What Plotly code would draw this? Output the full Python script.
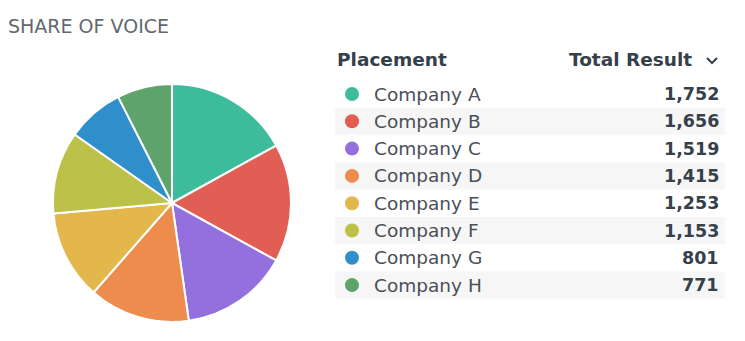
import plotly.graph_objects as go

# Share-of-voice data
companies = ["Company A", "Company B", "Company C", "Company D",
             "Company E", "Company F", "Company G", "Company H"]
totals = [1752, 1656, 1519, 1415, 1253, 1153, 801, 771]
colors = ["#3dbc9b", "#e05e53", "#9370de", "#ee8c4d",
          "#e3b74b", "#bcc249", "#2e8fca", "#5ea36b"]

W, H = 745, 341
TEXT = "#36404a"
FONT = "DejaVu Sans"

fig = go.Figure()

# Pie, starting at 12 o'clock and running clockwise
fig.add_trace(go.Pie(
    labels=companies, values=totals, sort=False, direction="clockwise",
    rotation=0, textinfo="none", hoverinfo="label+value",
    marker=dict(colors=colors, line=dict(color="white", width=2)),
    domain=dict(x=[53 / W, 291 / W], y=[1 - 322 / H, 1 - 84 / H]),
    showlegend=False,
))

# Table rows (pixel-like coordinates on a hidden overlay axis)
row0, step = 94, 27.3
row_y = [row0 + i * step for i in range(len(companies))]

shapes = []
for i, y in enumerate(row_y):
    if i % 2 == 1:
        shapes.append(dict(type="rect", xref="x", yref="y", layer="below",
                           x0=335, x1=725, y0=y - 13.5, y1=y + 13.5,
                           fillcolor="#f6f6f6", line=dict(width=0)))

# sort chevron next to the value column header
shapes.append(dict(type="path", xref="x", yref="y",
                   path="M 707 58 L 712 63 L 717 58",
                   line=dict(color=TEXT, width=2)))

fig.add_trace(go.Scatter(
    x=[352] * len(companies), y=row_y, mode="markers",
    marker=dict(size=14, color=colors), hoverinfo="skip", showlegend=False,
    xaxis="x", yaxis="y",
))

annotations = [
    dict(text="SHARE OF VOICE", x=6, y=26, xanchor="left", yanchor="middle",
         showarrow=False, font=dict(family=FONT, size=19, color="#62686e")),
    dict(text="<b>Placement</b>", x=335, y=59, xanchor="left", yanchor="middle",
         showarrow=False, font=dict(family=FONT, size=18.5, color=TEXT)),
    dict(text="<b>Total Result</b>", x=694, y=59, xanchor="right", yanchor="middle",
         showarrow=False, font=dict(family=FONT, size=18.5, color=TEXT)),
]
for name, val, y in zip(companies, totals, row_y):
    annotations.append(dict(text=name, x=372, y=y, xanchor="left", yanchor="middle",
                            showarrow=False,
                            font=dict(family=FONT, size=18.5, color="#4a5058")))
    annotations.append(dict(text=f"<b>{val:,}</b>", x=721, y=y, xanchor="right",
                            yanchor="middle", showarrow=False,
                            font=dict(family=FONT, size=17.5, color=TEXT)))

for a in annotations:
    a.setdefault("xref", "x")
    a.setdefault("yref", "y")

fig.update_layout(
    width=W, height=H, margin=dict(l=0, r=0, t=0, b=0),
    paper_bgcolor="white", plot_bgcolor="rgba(0,0,0,0)",
    xaxis=dict(range=[0, W], visible=False, fixedrange=True, domain=[0, 1]),
    yaxis=dict(range=[H, 0], visible=False, fixedrange=True, domain=[0, 1]),
    shapes=shapes, annotations=annotations,
)

fig.write_html("out.html")
